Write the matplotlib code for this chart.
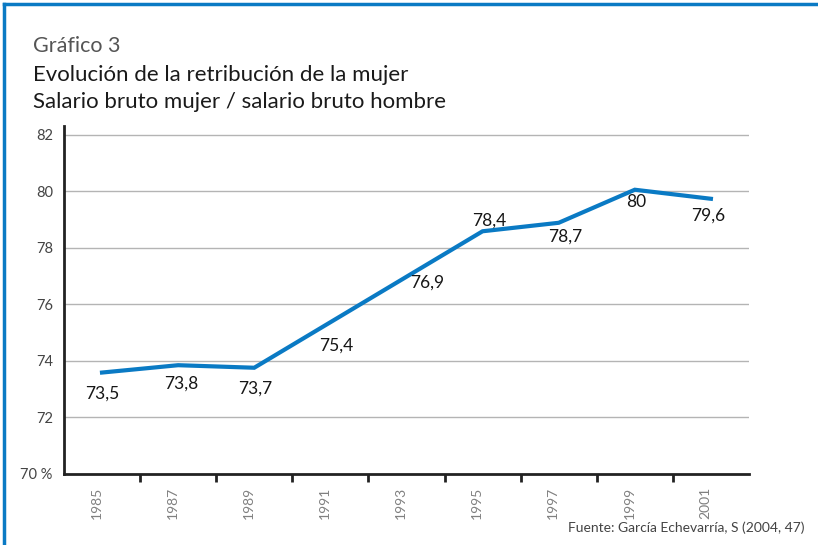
import matplotlib
matplotlib.use("Agg")
import matplotlib.pyplot as plt
from matplotlib.lines import Line2D

plt.rcParams['font.family'] = ['Lato', 'DejaVu Sans']

years  = ["1985", "1987", "1989", "1991", "1993", "1995", "1997", "1999", "2001"]
# position of the line as drawn in the picture
values = [73.59, 73.85, 73.76, 75.37, 76.98, 78.59, 78.89, 80.06, 79.74]
# printed data labels
labels = ["73,5", "73,8", "73,7", "75,4", "76,9", "78,4", "78,7", "80", "79,6"]
yticks = [70, 72, 74, 76, 78, 80, 82]
ytlbls = ["70 %", "72", "74", "76", "78", "80", "82"]

# label offsets in points (dx, dy) relative to each point
offs = [(0, -15), (2, -13), (1, -15), (4, -17), (15, -4), (5, 8), (5, -10), (1, -9), (-2, -12)]

blue = "#0a7ac4"

fig = plt.figure(figsize=(8.18, 5.45), dpi=100)
ax  = fig.add_axes([0.0782, 0.1303, 0.8374, 0.6377])

x = list(range(len(years)))
ax.plot(x, values, color=blue, lw=3.0, solid_joinstyle="miter", zorder=3)
for xi, v, lb, (dx, dy) in zip(x, values, labels, offs):
    ax.annotate(lb, (xi, v), xytext=(dx, dy), textcoords="offset points",
                ha="center", va="center", fontsize=12.5, color="#161616", zorder=4)

ax.set_xlim(-0.5, len(years) - 0.5)
ax.set_ylim(70, 82.3)
ax.set_yticks(yticks)
ax.set_yticklabels(ytlbls, fontsize=10.5, color="#444444")
for yv in yticks[1:]:
    ax.axhline(yv, color="#b4b4b4", lw=1.0, zorder=1)

ax.set_xticks([i + 0.5 for i in x[:-1]])
ax.set_xticklabels([])
ax.tick_params(axis="x", direction="out", length=6, width=2, color="#222222")
ax.tick_params(axis="y", length=0, pad=8)
for xi, yr in zip(x, years):
    ax.text(xi - 0.07, 69.55, yr, rotation=90, ha="center", va="top",
            fontsize=10, color="#808080", clip_on=False)

for s in ["top", "right"]:
    ax.spines[s].set_visible(False)
for s in ["left", "bottom"]:
    ax.spines[s].set_color("#222222")
    ax.spines[s].set_linewidth(2)

fig.text(33 / 818, 1 - 52 / 545, "Gráfico 3", fontsize=15.5,
         color="#555555", va="baseline")
fig.text(33 / 818, 1 - 81 / 545, "Evolución de la retribución de la mujer",
         fontsize=16, color="#1a1a1a", va="baseline")
fig.text(33 / 818, 1 - 108 / 545, "Salario bruto mujer / salario bruto hombre",
         fontsize=16, color="#1a1a1a", va="baseline")
fig.text(805 / 818, 1 - 532 / 545, "Fuente: García Echevarría, S (2004, 47)",
         fontsize=10, color="#444444", ha="right", va="baseline")

# blue frame (top and left)
fig.add_artist(Line2D([4 / 818, 1], [1 - 4 / 545, 1 - 4 / 545], color=blue, lw=2.5,
                      transform=fig.transFigure))
fig.add_artist(Line2D([4 / 818, 4 / 818], [0, 1 - 4 / 545], color=blue, lw=2.5,
                      transform=fig.transFigure))

fig.savefig("out.png", dpi=100)
